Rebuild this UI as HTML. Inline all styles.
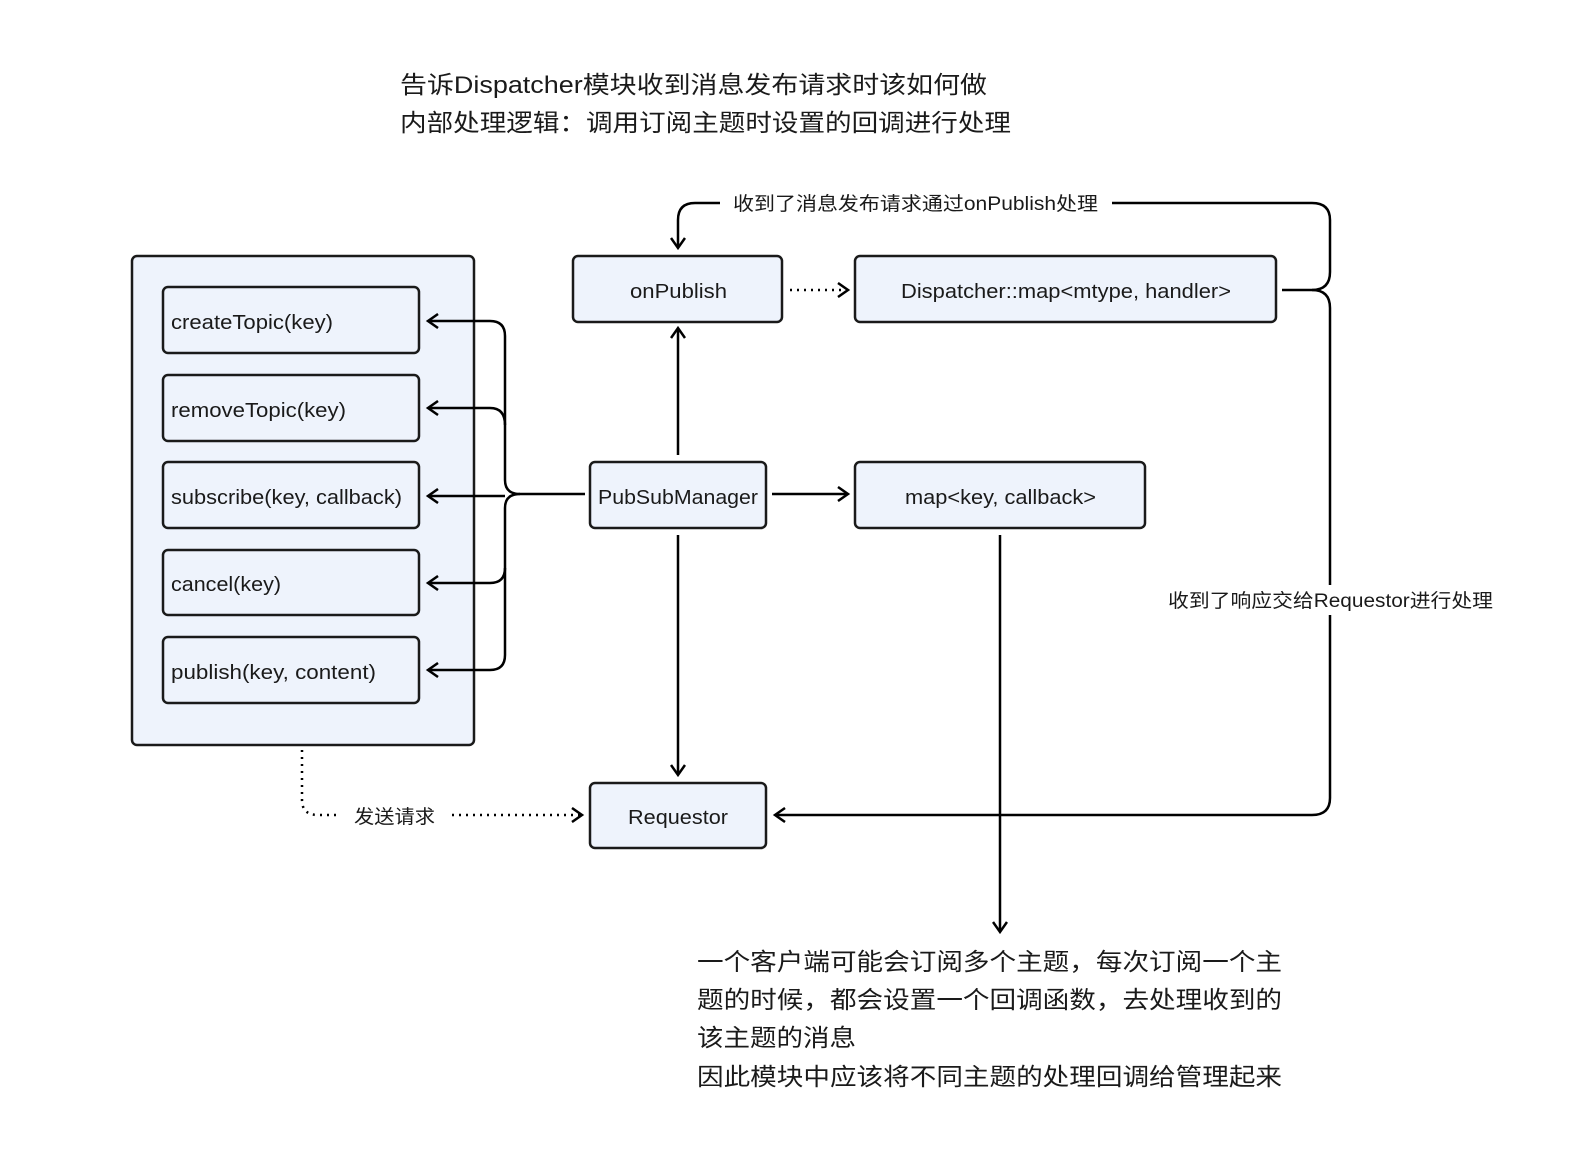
<!DOCTYPE html>
<html><head><meta charset="utf-8"><style>
body{margin:0;background:#fff}
svg text{font-family:"Liberation Sans","Noto Sans CJK SC",sans-serif;fill:#1a1a1a}
</style></head><body>
<svg width="1570" height="1158" viewBox="0 0 1570 1158" xmlns="http://www.w3.org/2000/svg">
<defs>
<marker id="a" markerWidth="16" markerHeight="16" refX="13" refY="8" orient="auto" markerUnits="userSpaceOnUse">
<path d="M3,1 L13,8 L3,15" fill="none" stroke="#000" stroke-width="2.5"/>
</marker>
</defs>
<g fill="#eef3fc" stroke="#1a1a1a" stroke-width="2.5">
<rect x="132" y="256" width="342" height="489" rx="5"/>
<rect x="163" y="287" width="256" height="66" rx="5"/>
<rect x="163" y="375" width="256" height="66" rx="5"/>
<rect x="163" y="462" width="256" height="66" rx="5"/>
<rect x="163" y="550" width="256" height="65" rx="5"/>
<rect x="163" y="637" width="256" height="66" rx="5"/>
<rect x="573" y="256" width="209" height="66" rx="5"/>
<rect x="855" y="256" width="421" height="66" rx="5"/>
<rect x="590" y="462" width="176" height="66" rx="5"/>
<rect x="855" y="462" width="290" height="66" rx="5"/>
<rect x="590" y="783" width="176" height="65" rx="5"/>
</g>
<g fill="none" stroke="#000" stroke-width="2.5">
<path d="M585,494 H520 Q505,494 505,480 V336 Q505,321 490,321 H428" marker-end="url(#a)"/>
<path d="M505,425 Q505,408 490,408 H428" marker-end="url(#a)"/>
<path d="M520,494 Q505,494 505,508 V655 Q505,670 490,670 H428" marker-end="url(#a)"/>
<path d="M505,568 Q505,583 490,583 H428" marker-end="url(#a)"/>
<path d="M505,496 H428" marker-end="url(#a)"/>
<path d="M678,455 V328" marker-end="url(#a)"/>
<path d="M678,535 V775" marker-end="url(#a)"/>
<path d="M772,494 H848" marker-end="url(#a)"/>
<path d="M790,290 H848" stroke-dasharray="2,5" marker-end="url(#a)"/>
<path d="M720,203 H695 Q678,203 678,220 V248" marker-end="url(#a)"/>
<path d="M1112,203 H1312 Q1330,203 1330,220 V272 Q1330,290 1312,290 H1282"/>
<path d="M1312,290 Q1330,290 1330,308 V798 Q1330,815 1312,815 H775" marker-end="url(#a)"/>
<path d="M1000,535 V932" marker-end="url(#a)"/>
<path d="M302,750 V800 Q302,815 318,815 H340" stroke-dasharray="2,5"/>
<path d="M452,815 H582" stroke-dasharray="2,5" marker-end="url(#a)"/>
</g>
<rect x="1160" y="585" width="340" height="30" fill="#fff"/>
<g font-size="20" lengthAdjust="spacingAndGlyphs">
<text x="171" y="329" textLength="162" lengthAdjust="spacingAndGlyphs">createTopic(key)</text>
<text x="171" y="417" textLength="175" lengthAdjust="spacingAndGlyphs">removeTopic(key)</text>
<text x="171" y="504" textLength="231" lengthAdjust="spacingAndGlyphs">subscribe(key, callback)</text>
<text x="171" y="591" textLength="110" lengthAdjust="spacingAndGlyphs">cancel(key)</text>
<text x="171" y="679" textLength="205" lengthAdjust="spacingAndGlyphs">publish(key, content)</text>
<text x="630" y="298" textLength="97" lengthAdjust="spacingAndGlyphs">onPublish</text>
<text x="901" y="298" textLength="330" lengthAdjust="spacingAndGlyphs">Dispatcher::map&lt;mtype, handler&gt;</text>
<text x="598" y="504" textLength="160" lengthAdjust="spacingAndGlyphs">PubSubManager</text>
<text x="905" y="504" textLength="191" lengthAdjust="spacingAndGlyphs">map&lt;key, callback&gt;</text>
<text x="628" y="824" textLength="100" lengthAdjust="spacingAndGlyphs">Requestor</text>
</g>
<g font-size="19">
<text x="733" y="210" textLength="365" lengthAdjust="spacingAndGlyphs">收到了消息发布请求通过onPublish处理</text>
<text x="1168" y="607" textLength="325" lengthAdjust="spacingAndGlyphs">收到了响应交给Requestor进行处理</text>
<text x="354" y="823" textLength="81" lengthAdjust="spacingAndGlyphs">发送请求</text>
</g>
<g font-size="24">
<text x="400" y="93" textLength="587" lengthAdjust="spacingAndGlyphs">告诉Dispatcher模块收到消息发布请求时该如何做</text>
<text x="400" y="131" textLength="611" lengthAdjust="spacingAndGlyphs">内部处理逻辑：调用订阅主题时设置的回调进行处理</text>
<text x="697" y="970" textLength="585" lengthAdjust="spacingAndGlyphs">一个客户端可能会订阅多个主题，每次订阅一个主</text>
<text x="697" y="1008" textLength="585" lengthAdjust="spacingAndGlyphs">题的时候，都会设置一个回调函数，去处理收到的</text>
<text x="697" y="1046" textLength="159" lengthAdjust="spacingAndGlyphs">该主题的消息</text>
<text x="697" y="1085" textLength="585" lengthAdjust="spacingAndGlyphs">因此模块中应该将不同主题的处理回调给管理起来</text>
</g>
</svg>
</body></html>
